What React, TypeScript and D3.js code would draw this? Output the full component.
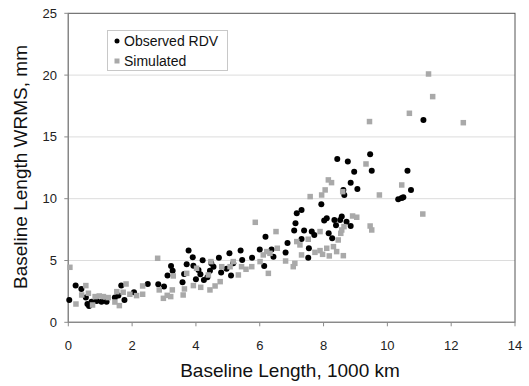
import React from "react";
import * as d3 from "d3";

const obsX = [0.03,0.23,0.41,0.55,0.6,0.65,0.73,0.89,1.04,1.2,1.46,1.57,1.66,1.76,2.06,2.49,2.82,3.0,3.11,3.22,3.27,3.58,3.63,3.71,3.77,3.9,3.92,4.0,4.08,4.14,4.21,4.25,4.36,4.44,4.48,4.55,4.72,4.79,4.96,5.05,5.1,5.17,5.4,5.45,5.76,6.0,6.14,6.18,6.37,6.43,6.81,6.87,7.08,7.12,7.16,7.31,7.31,7.39,7.52,7.54,7.63,7.71,7.93,8.02,8.1,8.16,8.27,8.34,8.39,8.43,8.52,8.57,8.62,8.65,8.72,8.76,8.85,8.85,8.96,9.06,9.46,9.51,10.34,10.45,10.5,10.63,10.74,11.13];
const obsY = [1.81,2.97,2.7,2.0,1.48,1.32,1.67,1.73,1.67,1.67,2.0,2.16,2.97,1.81,2.43,3.1,3.07,2.89,3.78,4.56,4.18,3.24,3.91,4.69,5.8,5.26,4.58,3.48,4.23,3.88,5.02,3.42,3.64,4.18,4.77,4.5,5.23,4.02,4.34,5.58,3.78,4.77,5.8,5.04,5.23,5.9,4.56,6.93,5.9,5.31,5.64,6.42,7.42,8.01,8.82,9.09,6.74,7.42,5.23,5.99,7.34,7.07,9.55,8.23,8.41,7.2,6.8,8.28,7.85,13.21,8.28,8.55,10.71,10.3,8.14,13.0,11.3,7.79,12.19,10.79,13.59,12.27,9.95,10.06,10.11,12.27,10.71,16.37];

const simX = [0.05,0.24,0.42,0.55,0.63,0.76,0.84,0.97,1.1,1.25,1.46,1.52,1.6,1.72,1.81,1.93,2.14,2.33,2.33,2.8,2.85,2.98,3.1,3.21,3.26,3.29,3.6,3.64,3.71,3.92,4.02,4.15,4.39,4.44,4.47,4.6,4.76,4.81,5.07,5.17,5.33,5.43,5.57,5.75,5.86,6.01,6.11,6.22,6.27,6.32,6.51,6.55,6.81,7.05,7.1,7.16,7.26,7.31,7.52,7.58,7.73,7.89,7.89,7.94,7.97,8.05,8.1,8.15,8.18,8.25,8.31,8.41,8.46,8.54,8.57,8.6,8.62,8.64,8.91,9.04,9.33,9.44,9.46,9.51,9.75,10.45,10.69,11.11,11.29,11.42,12.38];
const simY = [4.45,1.48,2.21,2.97,2.35,1.4,2.08,2.13,2.08,2.0,1.64,2.48,1.35,2.43,3.1,2.27,2.16,2.27,2.94,5.18,2.62,1.94,2.18,2.08,2.62,3.75,2.21,2.7,3.96,2.97,4.37,2.83,3.83,2.62,4.91,2.94,3.29,4.5,4.5,4.91,3.83,4.5,4.29,4.5,8.09,4.91,5.45,5.72,3.96,5.58,7.34,5.99,4.96,4.5,4.77,6.53,6.26,5.45,6.72,10.17,5.66,5.8,7.34,10.3,5.5,10.71,5.99,11.52,5.37,11.3,6.12,5.72,6.66,7.2,7.47,10.57,5.39,7.74,8.6,8.5,12.81,16.24,7.79,7.47,10.3,11.11,16.91,8.76,20.09,18.26,16.15];

const xTicks = [0, 2, 4, 6, 8, 10, 12, 14];
const yTicks = [0, 5, 10, 15, 20, 25];
const seriesNames = ["Observed RDV", "Simulated"];

const W = 529, H = 386;
const L = 68.3, R = 515, T = 13.3, B = 322.3;
const FONT = "'Liberation Sans', Arial, sans-serif";
const GRAY = "#a9a9a9";

export default function App() {
  const x = d3.scaleLinear().domain([0, 14]).range([L, R]);
  const y = d3.scaleLinear().domain([0, 25]).range([B, T]);
  const obs = obsX.map((v, i) => [v, obsY[i]]);
  const sim = simX.map((v, i) => [v, simY[i]]);
  return (
    <svg width={W} height={H} style={{ position: "absolute", left: 0, top: 0, background: "#fff" }}>
      {yTicks.filter((t) => t > 0 && t < 25).map((t) => (
        <line key={"g" + t} x1={L} x2={R} y1={y(t)} y2={y(t)} stroke="#dcdcdc" strokeWidth={1} />
      ))}
      <rect x={L} y={T} width={R - L} height={B - T} fill="none" stroke="#555" strokeWidth={1} />
      <line x1={L} x2={L} y1={T} y2={B} stroke="#8a8a8a" strokeWidth={1.2} />
      <line x1={L} x2={R} y1={B} y2={B} stroke="#8a8a8a" strokeWidth={1.2} />
      {xTicks.map((t) => (
        <g key={"x" + t}>
          <line x1={x(t)} x2={x(t)} y1={B} y2={B + 4} stroke="#8a8a8a" />
          <text x={x(t)} y={350} textAnchor="middle" fontFamily={FONT} fontSize={13} fill="#222">{t}</text>
        </g>
      ))}
      {yTicks.map((t) => (
        <g key={"y" + t}>
          <line x1={L - 4} x2={L} y1={y(t)} y2={y(t)} stroke="#8a8a8a" />
          <text x={57} y={y(t) + 4.5} textAnchor="end" fontFamily={FONT} fontSize={13} fill="#222">{t}</text>
        </g>
      ))}
      {obs.map((d, i) => (
        <circle key={"o" + i} cx={x(d[0])} cy={y(d[1])} r={3} fill="#000" />
      ))}
      {sim.map((d, i) => (
        <rect key={"s" + i} x={x(d[0]) - 2.75} y={y(d[1]) - 2.75} width={5.5} height={5.5} fill={GRAY} />
      ))}
      <rect x={107.5} y={30.5} width={120} height={40} fill="#fff" stroke="#c8c8c8" />
      <circle cx={117} cy={41} r={2.5} fill="#000" />
      <text x={124} y={46} fontFamily={FONT} fontSize={14} fill="#111">{seriesNames[0]}</text>
      <rect x={114.5} y={58.5} width={5} height={5} fill={GRAY} />
      <text x={124} y={66} fontFamily={FONT} fontSize={14} fill="#111">{seriesNames[1]}</text>
      <text x={290} y={377} textAnchor="middle" fontFamily={FONT} fontSize={19} fill="#111">Baseline Length, 1000 km</text>
      <text transform={`translate(27,167) rotate(-90)`} textAnchor="middle" fontFamily={FONT} fontSize={19} fill="#111">Baseline Length WRMS, mm</text>
    </svg>
  );
}
